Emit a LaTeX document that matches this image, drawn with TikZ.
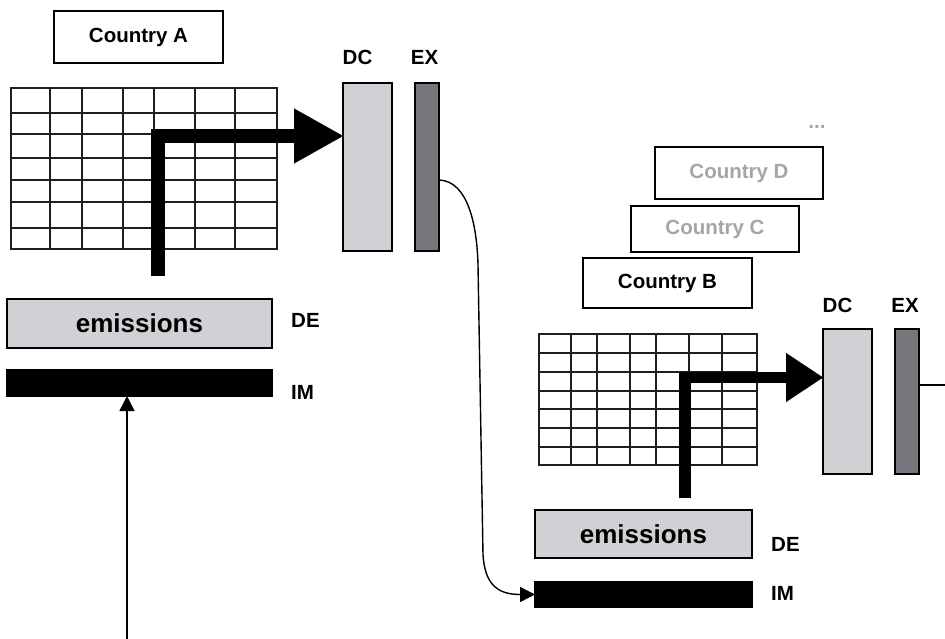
\documentclass[tikz,border=0pt]{standalone}
\usepackage{fontspec}
\setmainfont{Liberation Sans}
\usetikzlibrary{arrows.meta}
\definecolor{dcgray}{HTML}{D0D1D5}
\definecolor{exgray}{HTML}{76777C}
\definecolor{faded}{HTML}{A6A6A6}

\begin{document}
\begin{tikzpicture}[x=1pt,y=-1pt,
  box/.style={draw=black, line width=1.6pt, inner sep=0pt, outer sep=0pt},
  namebox/.style={box, fill=white, font=\fontsize{20.5}{24}\selectfont\bfseries},
  lbl/.style={inner sep=0pt, font=\fontsize{20.5}{24}\selectfont\bfseries},
  emis/.style={box, fill=dcgray, font=\fontsize{26}{30}\selectfont\bfseries},
  imbar/.style={box, fill=black},
  dcbar/.style={box, fill=dcgray},
  exbar/.style={box, fill=exgray},
  gridline/.style={line width=1.4pt, draw=black!88},
  flow/.style={line width=#1, line join=miter, line cap=butt},
  link/.style={line width=1.4pt, -{Triangle[length=15pt,width=15pt]}}
]
\path[use as bounding box] (0,0) rectangle (945,639);

% ---------------- Country A ----------------
\node[namebox, minimum width=169pt, minimum height=52pt] (nameA) at (138.5,37) {Country A};

% input-output table A
\foreach \x in {50,82,123,154,195,235} \draw[gridline] (\x,88) -- (\x,249);
\foreach \y in {113,134,158,180,202,228} \draw[gridline] (11,\y) -- (277,\y);
\draw[gridline] (11,88) rectangle (277,249);

% final demand columns
\node[dcbar, minimum width=49pt, minimum height=168pt] (dcA) at (367.5,167) {};
\node[exbar, minimum width=24pt, minimum height=168pt] (exA) at (427,167) {};
\node[lbl] (dcAl) at (357.5,57) {DC};
\node[lbl] (exAl) at (424.5,57) {EX};

% emission rows
\node[emis, minimum width=265pt, minimum height=49pt] (emA) at (139.5,323.5) {emissions};
\node[imbar, minimum width=265pt, minimum height=26pt] (imA) at (139.5,383) {};
\node[lbl, anchor=west] (deAl) at (291,320.5) {DE};
\node[lbl, anchor=west] (imAl) at (291,392.5) {IM};

% thick flow A
\coordinate (aFoot) at (158,276);
\coordinate (aBend) at (158,136);
\draw[flow=14.5pt, -{Triangle[length=49pt,width=55pt,line width=0.01pt]}]
  (aFoot) -- (aBend) -- (dcA.west |- aBend);

% incoming imports A
\coordinate (srcA) at (127,639);
\draw[link] (srcA) -- (srcA |- imA.south);

% ---------------- Countries B, C, D ----------------
\node[lbl, text=faded] (more) at (817,127) {...};
\node[namebox, text=faded, minimum width=168pt, minimum height=52pt] (nameD) at (739,173) {Country D};
\node[namebox, text=faded, minimum width=168pt, minimum height=46pt] (nameC) at (715,229) {Country C};
\node[namebox, minimum width=169pt, minimum height=50pt] (nameB) at (667.5,283) {Country B};

% input-output table B
\foreach \x in {571,597,630,656,689,722} \draw[gridline] (\x,334) -- (\x,465);
\foreach \y in {353,372,391,409,428,447} \draw[gridline] (539,\y) -- (757,\y);
\draw[gridline] (539,334) rectangle (757,465);

\node[dcbar, minimum width=49pt, minimum height=145pt] (dcB) at (847.5,401.5) {};
\node[exbar, minimum width=24pt, minimum height=145pt] (exB) at (907,401.5) {};
\node[lbl] (dcBl) at (837.5,305) {DC};
\node[lbl] (exBl) at (905,305) {EX};

\node[emis, minimum width=217pt, minimum height=48pt] (emB) at (643.5,534) {emissions};
\node[imbar, minimum width=217pt, minimum height=25pt] (imB) at (643.5,594.5) {};
\node[lbl, anchor=west] (deBl) at (771,544.5) {DE};
\node[lbl, anchor=west] (imBl) at (771,593.5) {IM};

% thick flow B
\coordinate (bFoot) at (685,498);
\coordinate (bBend) at (685,377.5);
\draw[flow=11.5pt, -{Triangle[length=37pt,width=49pt,line width=0.01pt]}]
  (bFoot) -- (bBend) -- (dcB.west |- bBend);

% exports of B leave to the right
\coordinate (outB) at (945,385);
\draw[line width=1.4pt] (exB.east |- outB) -- (outB);

% exports of A become imports of B
\draw[link] (exA.east |- 0,180) .. controls (468,181) and (477,225) .. (478,265)
  -- (483,555) .. controls (485,585) and (498,594.5) .. (imB.west);

\end{tikzpicture}
\end{document}
